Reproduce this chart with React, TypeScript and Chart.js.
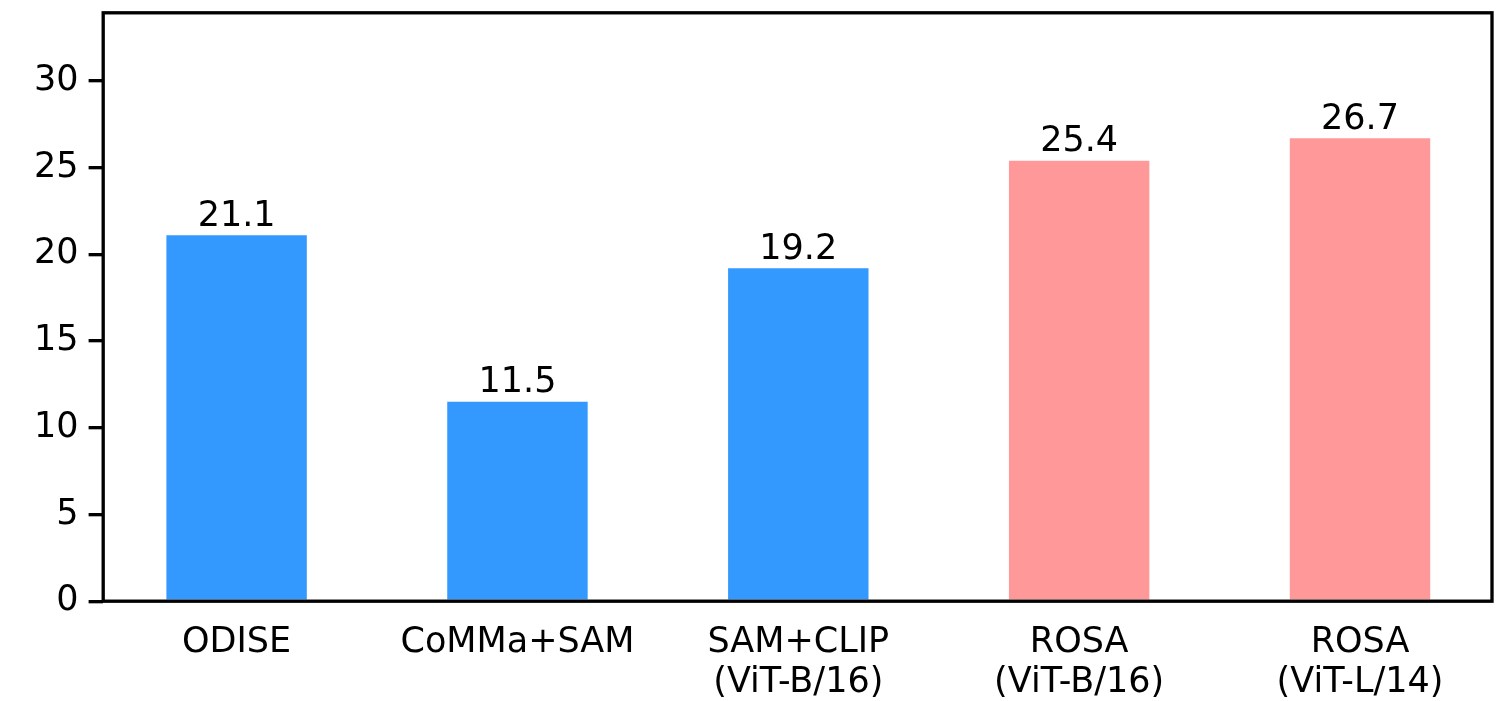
import React, { useEffect, useRef } from "react";
import { Chart, registerables } from "chart.js";

Chart.register(...registerables);

const categories: string[][] = [
  ["ODISE"],
  ["CoMMa+SAM"],
  ["SAM+CLIP", "(ViT-B/16)"],
  ["ROSA", "(ViT-B/16)"],
  ["ROSA", "(ViT-L/14)"],
];
const values: number[] = [21.1, 11.5, 19.2, 25.4, 26.7];
const yTicks: number[] = [0, 5, 10, 15, 20, 25, 30];
const yMax = 33.93;
const xMin = -0.475;
const xMax = 4.47;

const BLUE = "#3399ff";
const PINK = "#ff9999";
const barColors = [BLUE, BLUE, BLUE, PINK, PINK];

const FONT = "'DejaVu Sans', 'Liberation Sans', sans-serif";
const FS = 35;
const LW = 3.33;
const TICK_LEN = 14.6;

const spinePlugin = {
  id: "spines",
  afterDraw(chart: any) {
    const { ctx, chartArea } = chart;
    ctx.save();
    ctx.strokeStyle = "#000";
    ctx.lineWidth = LW;
    ctx.lineJoin = "miter";
    ctx.strokeRect(
      chartArea.left,
      chartArea.top,
      chartArea.right - chartArea.left,
      chartArea.bottom - chartArea.top
    );
    ctx.restore();
  },
};

const valueLabelPlugin = {
  id: "valueLabels",
  afterDatasetsDraw(chart: any) {
    const { ctx } = chart;
    const meta = chart.getDatasetMeta(0);
    ctx.save();
    ctx.fillStyle = "#000";
    ctx.font = `${FS}px ${FONT}`;
    ctx.textAlign = "center";
    ctx.textBaseline = "alphabetic";
    meta.data.forEach((bar: any, i: number) => {
      ctx.fillText(values[i].toFixed(1), bar.x, bar.y - 9.5);
    });
    ctx.restore();
  },
};

export default function App() {
  const ref = useRef<HTMLCanvasElement>(null);

  useEffect(() => {
    if (!ref.current) return;
    const chart = new Chart(ref.current, {
      type: "bar",
      data: {
        datasets: [
          {
            data: values.map((v, i) => ({ x: i, y: v })) as any,
            backgroundColor: barColors,
            borderWidth: 0,
            categoryPercentage: 1,
            barPercentage: 0.5,
          },
        ],
      },
      options: {
        animation: false,
        responsive: false,
        devicePixelRatio: 1,
        layout: { padding: { top: 12.8, right: 17, left: 0, bottom: 0 } },
        plugins: {
          legend: { display: false },
          tooltip: { enabled: false },
        },
        scales: {
          x: {
            type: "linear",
            min: xMin,
            max: xMax,
            offset: false,
            afterBuildTicks: (scale: any) => {
              scale.ticks = categories.map((_, i) => ({ value: i }));
            },
            afterFit: (scale: any) => {
              scale.height = 701 - 601.2;
              scale.paddingLeft = 0;
              scale.paddingRight = 0;
            },
            border: { display: false },
            grid: {
              display: true,
              offset: false,
              drawOnChartArea: false,
              drawTicks: false,
            },
            ticks: {
              autoSkip: false,
              maxRotation: 0,
              minRotation: 0,
              padding: 21.6,
              color: "#000",
              font: { family: FONT, size: FS, lineHeight: 40 / 35 },
              callback: (value: any) => {
                const idx = Math.round(Number(value));
                return categories[idx] ?? "";
              },
            },
          },
          y: {
            type: "linear",
            min: 0,
            max: yMax,
            afterBuildTicks: (scale: any) => {
              scale.ticks = yTicks.map((v) => ({ value: v }));
            },
            afterFit: (scale: any) => {
              scale.width = 103.2;
              scale.paddingTop = 0;
              scale.paddingBottom = 0;
            },
            border: { display: false },
            grid: {
              display: true,
              offset: false,
              drawOnChartArea: false,
              drawTicks: true,
              tickLength: TICK_LEN,
              tickWidth: LW,
              tickColor: "#000",
              color: "#000",
              lineWidth: LW,
            },
            ticks: {
              padding: 10,
              color: "#000",
              font: { family: FONT, size: FS },
              callback: (value: any) => String(value),
            },
          },
        },
      } as any,
      plugins: [spinePlugin, valueLabelPlugin],
    });
    return () => chart.destroy();
  }, []);

  return (
    <div style={{ position: "fixed", left: 0, top: 0, width: 1509, height: 701, background: "#fff" }}>
      <canvas ref={ref} width={1509} height={701} style={{ display: "block", width: 1509, height: 701 }} />
    </div>
  );
}
